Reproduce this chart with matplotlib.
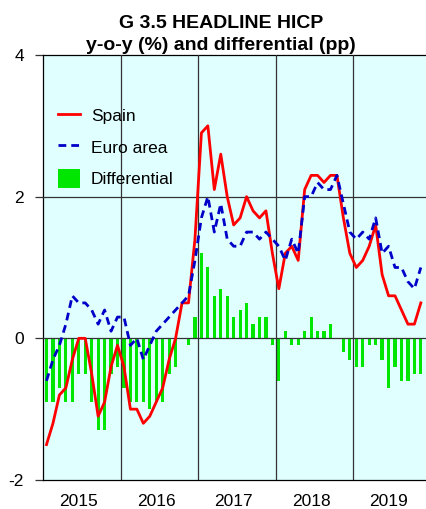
import matplotlib
matplotlib.use('Agg')
import matplotlib.pyplot as plt
import numpy as np

plt.rcParams['font.family'] = ['Liberation Sans', 'DejaVu Sans']
plt.rcParams['axes.unicode_minus'] = False

# monthly data, Jan 2015 - Nov 2019
years = ['2015', '2016', '2017', '2018', '2019']
spain = [-1.5, -1.2, -0.8, -0.7, -0.3, 0.0, 0.0, -0.5, -1.1, -0.9, -0.4, -0.1,
         -0.4, -1.0, -1.0, -1.2, -1.1, -0.9, -0.7, -0.3, 0.0, 0.5, 0.5, 1.4,
         2.9, 3.0, 2.1, 2.6, 2.0, 1.6, 1.7, 2.0, 1.8, 1.7, 1.8, 1.2,
         0.7, 1.2, 1.3, 1.1, 2.1, 2.3, 2.3, 2.2, 2.3, 2.3, 1.7, 1.2,
         1.0, 1.1, 1.3, 1.6, 0.9, 0.6, 0.6, 0.4, 0.2, 0.2, 0.5]
euro_area = [-0.6, -0.3, -0.1, 0.2, 0.6, 0.5, 0.5, 0.4, 0.2, 0.4, 0.1, 0.3,
             0.3, -0.1, 0.0, -0.3, -0.1, 0.1, 0.2, 0.3, 0.4, 0.5, 0.6, 1.1,
             1.7, 2.0, 1.5, 1.9, 1.4, 1.3, 1.3, 1.5, 1.5, 1.4, 1.5, 1.4,
             1.3, 1.1, 1.4, 1.2, 2.0, 2.0, 2.2, 2.1, 2.1, 2.3, 1.9, 1.5,
             1.4, 1.5, 1.4, 1.7, 1.2, 1.3, 1.0, 1.0, 0.8, 0.7, 1.0]
differential = [-0.9, -0.9, -0.7, -0.9, -0.9, -0.5, -0.5, -0.9, -1.3, -1.3, -0.5, -0.4,
                -0.7, -0.9, -0.9, -0.9, -1.0, -0.9, -0.9, -0.5, -0.4, 0.0, -0.1, 0.3,
                1.2, 1.0, 0.6, 0.7, 0.6, 0.3, 0.4, 0.5, 0.2, 0.3, 0.3, -0.1,
                -0.6, 0.1, -0.1, -0.1, 0.1, 0.3, 0.1, 0.1, 0.2, 0.0, -0.2, -0.3,
                -0.4, -0.4, -0.1, -0.1, -0.3, -0.7, -0.4, -0.6, -0.6, -0.5, -0.5]

months = np.arange(len(spain))

fig = plt.figure(figsize=(4.26, 5.09), dpi=100)
ax = fig.add_axes([0.1016, 0.057, 0.8984, 0.835])
ax.set_facecolor('#e0ffff')

bars = ax.bar(months, differential, width=0.5, color='#00e600', label='Differential', zorder=2)
l1, = ax.plot(months, spain, color='#ff0000', lw=2, label='Spain', zorder=4)
l2, = ax.plot(months, euro_area, color='#0000c8', lw=2, dashes=(2.8, 1.8), label='Euro area', zorder=4)

# year separators and grid
for i in range(1, len(years)):
    ax.axvline(12 * i - 0.5, color='#333333', lw=0.9, zorder=3)
for y in [0, 2]:
    ax.axhline(y, color='#333333', lw=0.9, zorder=3)

ax.set_xlim(-0.5, 58.8)
ax.set_ylim(-2, 4)
ax.set_yticks([-2, 0, 2, 4])
ax.tick_params(axis='y', length=5.8, width=0.9, color='#333333', pad=8, labelsize=12.5)
ax.set_xticks([12 * i + 5 for i in range(len(years))])
ax.set_xticklabels(years)
ax.tick_params(axis='x', length=0, pad=10, labelsize=12.5)
ax.spines['right'].set_visible(False)
for s in ['left', 'bottom', 'top']:
    ax.spines[s].set_color('black')
    ax.spines[s].set_linewidth(0.9)

ax.legend(handles=[l1, l2, bars], loc='center left', bbox_to_anchor=(0.038, 0.7835),
          frameon=False, fontsize=12.5, handlelength=1.3, handleheight=1.3,
          labelspacing=0.72, handletextpad=0.6, borderpad=0, borderaxespad=0)

fig.text(221 / 426, 1 - 28 / 509, 'G 3.5 HEADLINE HICP', ha='center', va='baseline',
         fontsize=14, fontweight='bold')
fig.text(221 / 426, 1 - 50 / 509, 'y-o-y (%) and differential (pp)', ha='center', va='baseline',
         fontsize=14, fontweight='bold')

fig.savefig('out.png', dpi=100)
